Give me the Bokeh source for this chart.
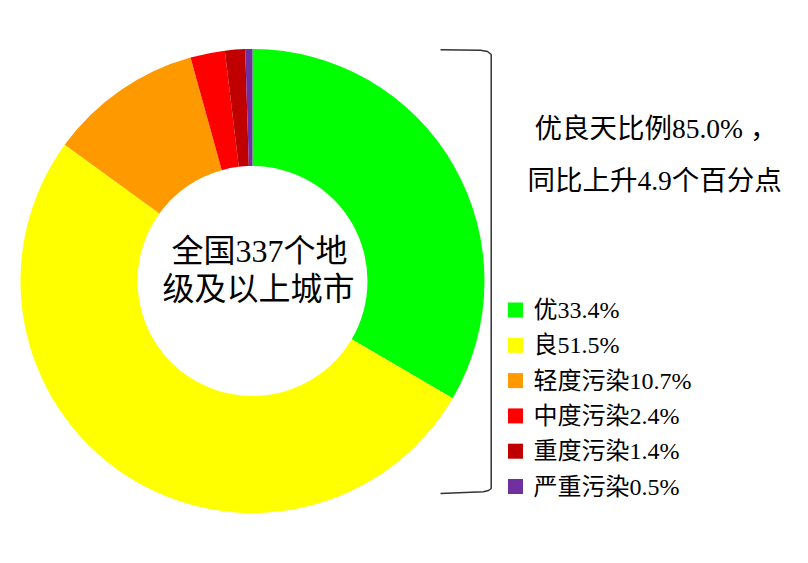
import math
from bokeh.plotting import figure
from bokeh.models import Range1d, ColumnDataSource
from bokeh.core.properties import value
from bokeh.embed import file_html
from bokeh.resources import INLINE

# ---- data ----
categories = ["优", "良", "轻度污染", "中度污染", "重度污染", "严重污染"]
percents = [33.4, 51.5, 10.7, 2.4, 1.4, 0.5]
colors = ["#00FF00", "#FFFF00", "#FF9900", "#FF0000", "#C00000", "#7030A0"]
center_lines = ["全国337个地", "级及以上城市"]
note_lines = ["优良天比例85.0% ，", "同比上升4.9个百分点"]

W, H = 792, 547
FONT = "Liberation Serif, Noto Sans CJK SC"

p = figure(width=W, height=H, output_backend="svg", toolbar_location=None,
           x_range=Range1d(0, W), y_range=Range1d(563 - H, 563),
           min_border=0, outline_line_color=None)
p.axis.visible = False
p.grid.visible = False
p.background_fill_color = "white"
p.border_fill_color = "white"

def Y(py):
    return 563 - py

# ---- donut ----
cx, cy = 252, Y(280.5)
r_out, r_in = 232, 115
total = sum(percents)
starts, ends = [], []
cum = 0.0
for v in percents:
    a0 = math.pi / 2 - 2 * math.pi * cum / total
    cum += v
    a1 = math.pi / 2 - 2 * math.pi * cum / total
    starts.append(a0)
    ends.append(a1)
src = ColumnDataSource(dict(start=starts, end=ends, color=colors))
p.annular_wedge(x=cx, y=cy, inner_radius=r_in, outer_radius=r_out,
                start_angle="start", end_angle="end", direction="clock",
                color="color", line_color=None, source=src)

# ---- center text ----
p.text(x=[259, 258], y=[Y(250), Y(288)], text=center_lines,
       text_font=value(FONT), text_font_size="32px", text_color="black",
       text_align="center", text_baseline="middle")

# ---- bracket ----
bx = [440, 480, 487, 490.7, 490.7, 488, 483, 440]
by = [Y(49.3), Y(49.8), Y(51), Y(54), Y(488), Y(490), Y(491.3), Y(493)]
p.line(bx, by, line_color="#333333", line_width=1.5)

# ---- note text ----
p.text(x=[534, 527], y=[Y(128), Y(180)], text=note_lines,
       text_font=value(FONT), text_font_size="27.5px", text_color="black",
       text_align="left", text_baseline="middle")

# ---- legend ----
ly0, dy = 309.5, 35.3
ly = [Y(ly0 + i * dy) for i in range(len(categories))]
labels = [f"{c}{v}%" for c, v in zip(categories, percents)]
p.rect(x=[515] * len(ly), y=ly, width=15, height=15, fill_color=colors, line_color=None)
p.text(x=[533] * len(ly), y=ly, text=labels,
       text_font=value(FONT), text_font_size="24px", text_color="black",
       text_align="left", text_baseline="middle")

open("out.html", "w").write(file_html(p, INLINE))
